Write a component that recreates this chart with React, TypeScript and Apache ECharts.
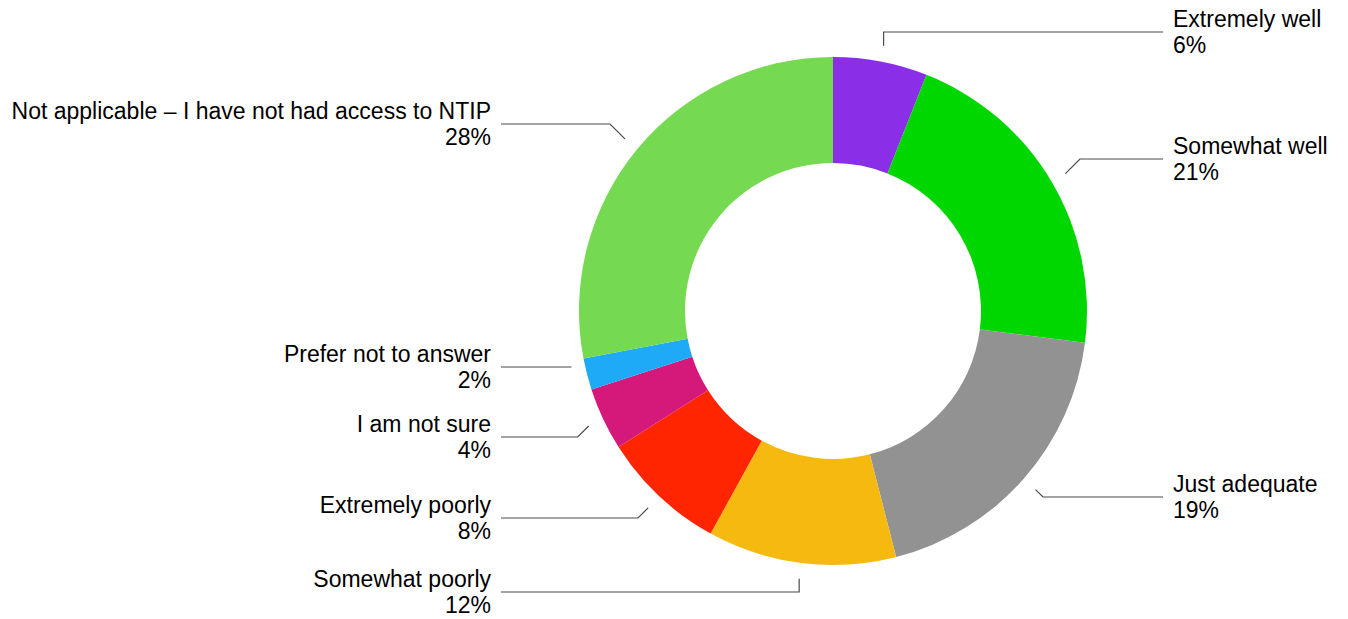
import React, { useEffect, useRef } from "react";
import * as echarts from "echarts";

// ---- data ----
const categories = [
  "Extremely well",
  "Somewhat well",
  "Just adequate",
  "Somewhat poorly",
  "Extremely poorly",
  "I am not sure",
  "Prefer not to answer",
  "Not applicable – I have not had access to NTIP",
];
const values = [6, 21, 19, 12, 8, 4, 2, 28];

// ---- styles / layout ----
const colors = ["#8A2EE8", "#00D600", "#929292", "#F6B90F", "#FF2500", "#D4197A", "#1EAAF6", "#76D952"];
const labelCenterY = [32, 159, 497, 592, 518, 437, 367, 124];
// leader shape: v = vertical then horizontal, d = diagonal then horizontal, h = horizontal only
const leaderKind = ["v", "d", "d", "v", "d", "d", "h", "d"];
const CX = 833;
const CY = 311;
const R_IN = 148;
const R_OUT = 254;
const LEADER_R = 270;
const RIGHT_TEXT_X = CX + 340;
const LEFT_TEXT_X = CX - 342;
const GAP = 10;

export default function App() {
  const ref = useRef<HTMLDivElement>(null);
  useEffect(() => {
    if (!ref.current) return;
    const chart = echarts.init(ref.current, undefined, { renderer: "svg" });
    const total = values.reduce((a, b) => a + b, 0);
    const cum: number[] = [];
    let acc = 0;
    values.forEach((v) => {
      cum.push(acc + v / 2);
      acc += v;
    });
    chart.setOption({
      animation: false,
      backgroundColor: "#ffffff",
      series: [
        {
          type: "pie",
          silent: true,
          center: [CX, CY],
          radius: [R_IN, R_OUT],
          startAngle: 90,
          clockwise: true,
          avoidLabelOverlap: false,
          data: categories.map((name, i) => ({
            name,
            value: values[i],
            itemStyle: { color: colors[i] },
          })),
          itemStyle: { borderWidth: 0 },
          label: {
            show: true,
            formatter: "{b}\n{c}%",
            fontFamily: 'Helvetica, "Liberation Sans", Arial, sans-serif',
            fontSize: 23,
            lineHeight: 26,
            color: "#000000",
          },
          labelLine: {
            show: true,
            lineStyle: { color: "#4a4a4a", width: 1.2 },
          },
          emphasis: { disabled: true },
          labelLayout: (params: any) => {
            const i = params.dataIndex;
            const theta = (cum[i] / total) * Math.PI * 2;
            const s = Math.sin(theta);
            const c = Math.cos(theta);
            const right = s >= 0;
            const ly = labelCenterY[i];
            let sx = CX + LEADER_R * s;
            let sy = CY - LEADER_R * c;
            let bend: number[];
            const kind = leaderKind[i];
            if (kind === "v") {
              bend = [sx, ly];
            } else if (kind === "h") {
              sy = ly;
              bend = [sx, ly];
            } else {
              bend = [sx + (right ? 1 : -1) * Math.abs(sy - ly), ly];
            }
            const textX = right ? RIGHT_TEXT_X : LEFT_TEXT_X;
            const end = [right ? textX - GAP : textX + GAP, ly];
            return {
              x: textX,
              y: ly,
              align: right ? "left" : "right",
              verticalAlign: "middle",
              labelLinePoints: [[sx, sy], bend, end],
            };
          },
        },
      ],
    });
    return () => chart.dispose();
  }, []);
  return (
    <div
      ref={ref}
      style={{ position: "absolute", left: 0, top: 0, width: 1348, height: 619 }}
    />
  );
}
